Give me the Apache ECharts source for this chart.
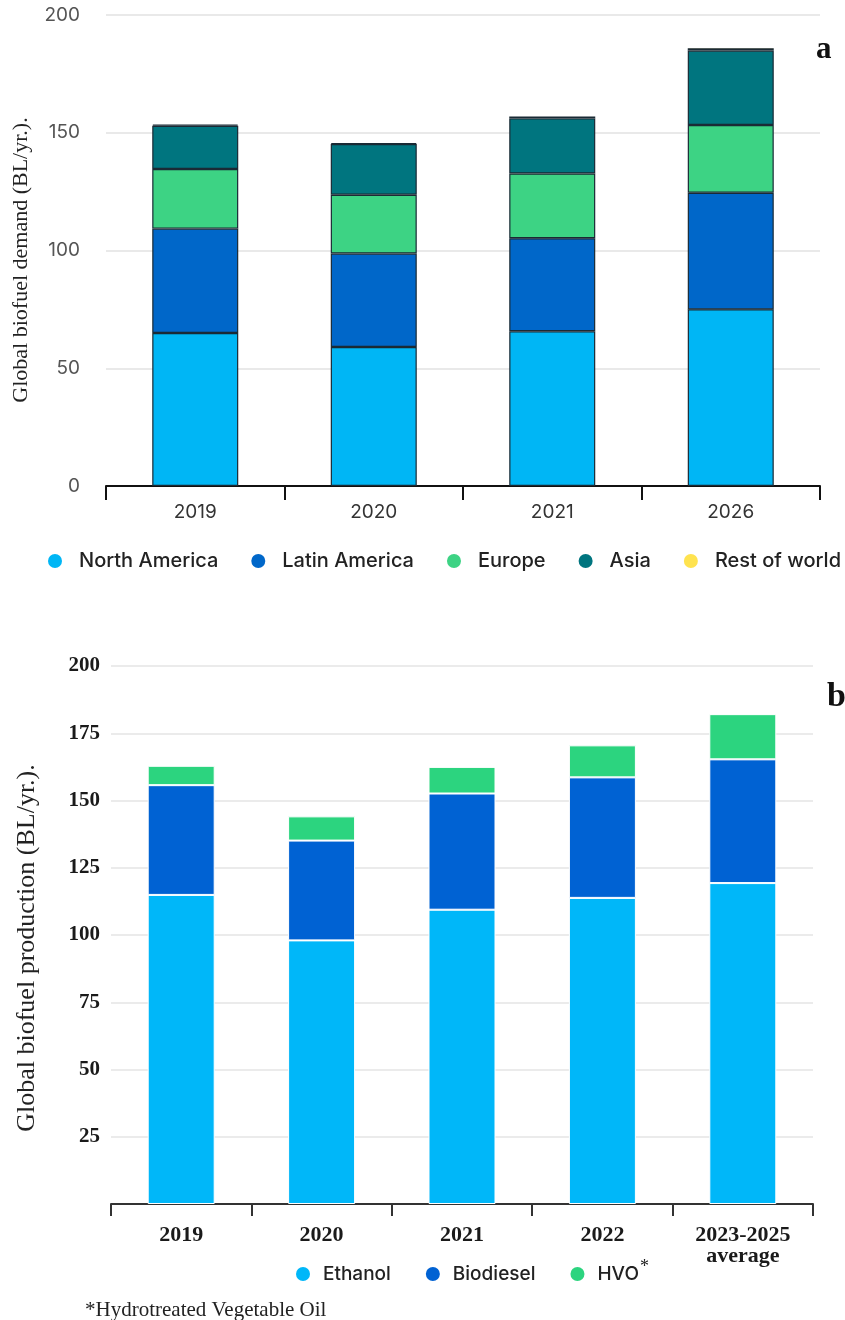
<!DOCTYPE html>
<html>
<head>
<meta charset="utf-8">
<script src="https://cdn.jsdelivr.net/npm/echarts@6/dist/echarts.min.js"></script>
<style>
html,body{margin:0;padding:0;background:#fff;}
#chart{width:845px;height:1320px;}
</style>
</head>
<body>
<div id="chart"></div>
<script>
// ---- Chart a: Global biofuel demand ----
const categoriesA = ['2019', '2020', '2021', '2026'];
const northAmerica = [65.0, 59.0, 65.7, 75.0];
const latinAmerica = [44.3, 39.7, 39.5, 49.5];
const europe = [25.3, 25.0, 27.5, 28.8];
const asia = [18.4, 21.5, 23.4, 31.6];
const restOfWorld = [0.5, 0.4, 0.8, 1.0];

// ---- Chart b: Global biofuel production ----
const categoriesB = ['2019', '2020', '2021', '2022', '2023-2025\naverage'];
const ethanol = [114.9, 98.0, 109.4, 113.8, 119.3];
const biodiesel = [40.8, 37.1, 43.2, 44.8, 46.0];
const hvo = [7.2, 9.0, 9.9, 11.9, 16.8];

const colA = {na:'#00B6F5', la:'#0067C9', eu:'#3DD384', as:'#00757F', rw:'#FFE34F'};
const colB = {et:'#00B7F9', bd:'#0062D3', hv:'#2CD47F'};

const sans = 'Inter, "Noto Sans", sans-serif';
const serif = '"Liberation Serif", "DejaVu Serif", serif';

const chart = echarts.init(document.getElementById('chart'), null, {renderer:'canvas'});

function barA(name, data, color){
  return {name, type:'bar', stack:'a', xAxisIndex:0, yAxisIndex:0, data,
    barWidth:86, itemStyle:{color, borderColor:'#1a2a35', borderWidth:1.2}};
}
function barB(name, data, color){
  return {name, type:'bar', stack:'b', xAxisIndex:1, yAxisIndex:1, data,
    barWidth:67, itemStyle:{color, borderColor:'#ffffff', borderWidth:1}};
}

chart.setOption({
  animation:false,
  backgroundColor:'#fff',
  grid:[
    {left:106, right:25, top:15, height:471},
    {left:111, right:32, top:666, height:538}
  ],
  xAxis:[
    {type:'category', gridIndex:0, data:categoriesA,
      axisLine:{lineStyle:{color:'#111', width:2}},
      axisTick:{show:true, length:14, lineStyle:{color:'#111', width:2}},
      axisLabel:{margin:17, fontFamily:sans, fontSize:19, color:'#333'}},
    {type:'category', gridIndex:1, data:categoriesB,
      axisLine:{lineStyle:{color:'#333', width:2}},
      axisTick:{show:true, length:12, lineStyle:{color:'#333', width:2}},
      axisLabel:{margin:21, fontFamily:serif, fontWeight:'bold', fontSize:22, color:'#1a1a1a', lineHeight:21}}
  ],
  yAxis:[
    {type:'value', gridIndex:0, min:0, max:200, interval:50,
      axisLine:{show:false}, axisTick:{show:false},
      axisLabel:{margin:26, fontFamily:sans, fontSize:19, color:'#555'},
      splitLine:{lineStyle:{color:'#e2e2e2', width:1.5}}},
    {type:'value', gridIndex:1, min:0, max:200, interval:25,
      axisLine:{show:false}, axisTick:{show:false},
      axisLabel:{margin:11, fontFamily:serif, fontWeight:'bold', fontSize:21, color:'#1a1a1a',
        formatter:v => v === 0 ? '' : String(v)},
      splitLine:{lineStyle:{color:'#e4e4e4', width:1.5}}}
  ],
  legend:[
    {data:['North America','Latin America','Europe','Asia','Rest of world'],
      left:48, top:551, width:797, padding:0, icon:'circle', itemWidth:14, itemHeight:14, itemGap:33,
      itemStyle:{borderWidth:0},
      textStyle:{fontFamily:sans, fontWeight:500, fontSize:20, color:'#222', padding:[0,0,0,12]}},
    {data:['Ethanol','Biodiesel','HVO'],
      left:291, top:1253, icon:'circle', itemWidth:14, itemHeight:14, itemGap:35,
      itemStyle:{borderWidth:0},
      formatter:n => n === 'HVO' ? '{t|HVO}{s|*}' : n,
      textStyle:{fontFamily:sans, fontWeight:500, fontSize:19, color:'#222', padding:[0,0,0,8],
        rich:{t:{fontFamily:sans, fontWeight:500, fontSize:19, color:'#222'},
              s:{fontFamily:serif, fontSize:18, color:'#222', padding:[0,0,14,1]}}}}
  ],
  graphic:[
    {type:'text', x:21, y:260, rotation:Math.PI/2,
      style:{text:'Global biofuel demand (BL/yr.).', font:'22px "Liberation Serif", serif', fill:'#222', align:'center', verticalAlign:'middle'}},
    {type:'text', x:27, y:948, rotation:Math.PI/2,
      style:{text:'Global biofuel production (BL/yr.).', font:'26px "Liberation Serif", serif', fill:'#222', align:'center', verticalAlign:'middle'}},
    {type:'text', x:816, y:65,
      style:{text:'a', font:'bold 31px "Liberation Serif", serif', fill:'#111', align:'left', verticalAlign:'bottom'}},
    {type:'text', x:827, y:714,
      style:{text:'b', font:'bold 34px "Liberation Serif", serif', fill:'#111', align:'left', verticalAlign:'bottom'}},
    {type:'text', x:85, y:1310,
      style:{text:'*Hydrotreated Vegetable Oil', font:'21px "Liberation Serif", serif', fill:'#222', align:'left', verticalAlign:'middle'}}
  ],
  series:[
    barA('North America', northAmerica, colA.na),
    barA('Latin America', latinAmerica, colA.la),
    barA('Europe', europe, colA.eu),
    barA('Asia', asia, colA.as),
    barA('Rest of world', restOfWorld, colA.rw),
    barB('Ethanol', ethanol, colB.et),
    barB('Biodiesel', biodiesel, colB.bd),
    barB('HVO', hvo, colB.hv)
  ]
});
</script>
</body>
</html>
